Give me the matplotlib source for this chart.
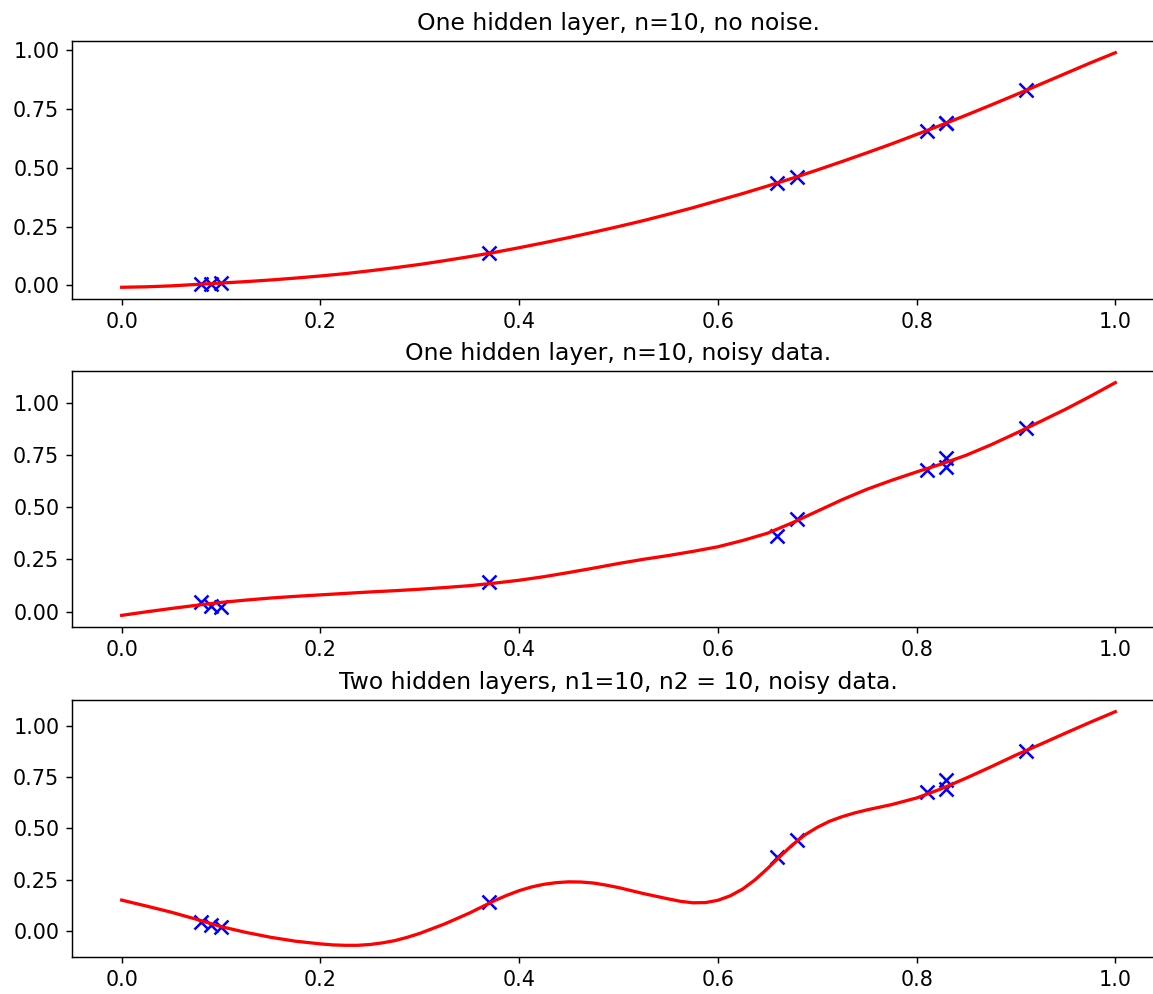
import matplotlib
matplotlib.use('Agg')
import matplotlib.pyplot as plt

# training points (x)
x_train = [0.08, 0.09, 0.10, 0.37, 0.66, 0.68, 0.81, 0.83, 0.83, 0.91]
y_clean = [0.006, 0.008, 0.010, 0.137, 0.436, 0.462, 0.656, 0.689, 0.689, 0.828]
y_noisy = [0.044, 0.028, 0.021, 0.141, 0.361, 0.444, 0.675, 0.735, 0.690, 0.878]

# network output
x_fit1 = [0.0, 0.025, 0.05, 0.075, 0.1, 0.125, 0.15, 0.175, 0.2, 0.225,
          0.25, 0.275, 0.3, 0.325, 0.35, 0.375, 0.4, 0.425, 0.45, 0.475,
          0.5, 0.525, 0.55, 0.575, 0.6, 0.625, 0.65, 0.675, 0.7, 0.725,
          0.75, 0.775, 0.8, 0.825, 0.85, 0.875, 0.9, 0.925, 0.95, 0.975, 1.0]
fit_one_clean = [-0.008, -0.006, -0.002, 0.004, 0.010, 0.016, 0.023, 0.031, 0.040, 0.050,
                 0.062, 0.075, 0.089, 0.105, 0.122, 0.140, 0.160, 0.181, 0.203, 0.226,
                 0.250, 0.275, 0.302, 0.330, 0.360, 0.390, 0.422, 0.455, 0.490, 0.526,
                 0.563, 0.601, 0.641, 0.681, 0.723, 0.766, 0.810, 0.855, 0.900, 0.945,
                 0.988]

x_fit2 = x_fit1
fit_one_noisy = [-0.018, -0.001, 0.015, 0.030, 0.044, 0.055, 0.065, 0.073, 0.080, 0.087,
                 0.094, 0.100, 0.107, 0.115, 0.124, 0.136, 0.150, 0.167, 0.187, 0.208,
                 0.230, 0.250, 0.268, 0.288, 0.310, 0.340, 0.375, 0.425, 0.480, 0.535,
                 0.585, 0.628, 0.668, 0.706, 0.748, 0.798, 0.853, 0.910, 0.968, 1.030,
                 1.095]

x_fit3 = [0.0, 0.025, 0.05, 0.075, 0.1, 0.125, 0.15, 0.175, 0.2, 0.2125,
          0.225, 0.2375, 0.25, 0.2625, 0.275, 0.2875, 0.3, 0.325, 0.35, 0.375,
          0.3875, 0.4, 0.4125, 0.425, 0.4375, 0.45, 0.4625, 0.475, 0.4875, 0.5,
          0.525, 0.55, 0.5625, 0.575, 0.5875, 0.6, 0.6125, 0.625, 0.6375, 0.65,
          0.6625, 0.675, 0.6875, 0.7, 0.7125, 0.725, 0.7375, 0.75, 0.775, 0.8,
          0.825, 0.85, 0.875, 0.9, 0.925, 0.95, 0.975, 1.0]
fit_two_noisy = [0.151, 0.122, 0.092, 0.058, 0.022, -0.006, -0.030, -0.049, -0.062, -0.067,
                 -0.069, -0.069, -0.065, -0.057, -0.046, -0.030, -0.011, 0.035, 0.088, 0.148,
                 0.174, 0.197, 0.215, 0.228, 0.236, 0.240, 0.239, 0.234, 0.224, 0.212,
                 0.183, 0.157, 0.145, 0.138, 0.139, 0.150, 0.172, 0.205, 0.250, 0.305,
                 0.363, 0.420, 0.468, 0.505, 0.535, 0.557, 0.575, 0.590, 0.616, 0.648,
                 0.693, 0.745, 0.800, 0.857, 0.910, 0.964, 1.017, 1.068]

titles = ['One hidden layer, n=10, no noise.',
          'One hidden layer, n=10, noisy data.',
          'Two hidden layers, n1=10, n2 = 10, noisy data.']

plt.rcParams['xtick.labelsize'] = 11.5
plt.rcParams['ytick.labelsize'] = 11.5
plt.rcParams['axes.titlesize'] = 13

fig = plt.figure(figsize=(1153 / 130, 994 / 130), dpi=130)
W, H = 1153, 994
# (top, bottom) of each panel in pixels; right edge runs off the canvas
boxes = [(41, 299), (371, 627), (700, 957)]
left, right = 72, 1165

panels = [(y_clean, x_fit1, fit_one_clean),
          (y_noisy, x_fit2, fit_one_noisy),
          (y_noisy, x_fit3, fit_two_noisy)]
for (top, bottom), (pts, xf, fit), title in zip(boxes, panels, titles):
    ax = fig.add_axes([left / W, (H - bottom) / H, (right - left) / W, (bottom - top) / H])
    ax.plot(x_train, pts, 'bx', markersize=7.5, markeredgewidth=1.4)
    ax.plot(xf, fit, 'r-', linewidth=1.8)
    ax.set_title(title)
    ax.set_xticks([0.0, 0.2, 0.4, 0.6, 0.8, 1.0])
    ax.set_yticks([0.0, 0.25, 0.5, 0.75, 1.0])

fig.savefig('out.png', dpi=130)
